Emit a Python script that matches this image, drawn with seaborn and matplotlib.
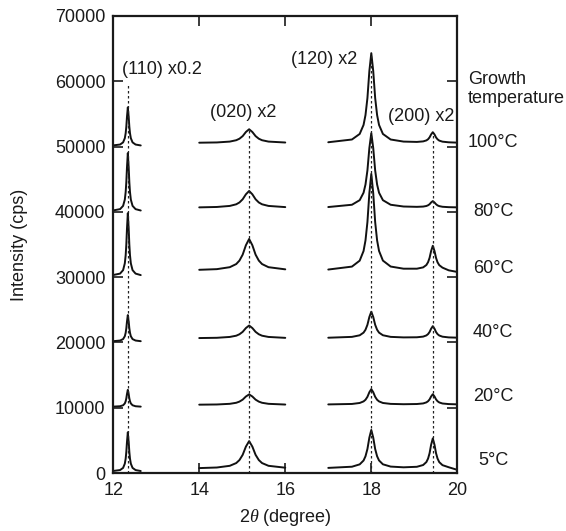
import pandas as pd
import seaborn as sns
import matplotlib.pyplot as plt

# growth temperatures, top trace first
temps = ['100°C', '80°C', '60°C', '40°C', '20°C', '5°C']

# (110) region, intensity x0.2
x_110 = [12.00, 12.16, 12.23, 12.27, 12.29, 12.305, 12.32, 12.34,
         12.36, 12.375, 12.39, 12.41, 12.45, 12.52, 12.64]
i_110 = [
    [50180, 50310, 50640, 51280, 52050, 53050, 54530, 56000, 54530, 53050, 52050, 51280, 50640, 50310, 50170],
    [40220, 40420, 40920, 41880, 43040, 44550, 46780, 49000, 46780, 44550, 43040, 41880, 40920, 40420, 40210],
    [30330, 30550, 31080, 32120, 33370, 35000, 37400, 39800, 37400, 35000, 33370, 32120, 31080, 30550, 30320],
    [20200, 20300, 20520, 20960, 21490, 22180, 23190, 24200, 23190, 22180, 21490, 20960, 20520, 20300, 20200],
    [10180, 10240, 10390, 10670, 11010, 11450, 12100, 12750, 12100, 11450, 11010, 10670, 10390, 10240, 10180],
    [330, 470, 800, 1450, 2230, 3250, 4750, 6250, 4750, 3250, 2230, 1450, 800, 470, 320],
]

# (020) region, intensity x2
x_020 = [14.00, 14.41, 14.71, 14.86, 14.935, 15.01, 15.085, 15.16,
         15.235, 15.31, 15.385, 15.46, 15.61, 16.00]
i_020 = [
    [50590, 50630, 50760, 50970, 51200, 51600, 52230, 52650, 52230, 51600, 51200, 50970, 50760, 50620],
    [40690, 40750, 40910, 41160, 41440, 41930, 42690, 43200, 42690, 41930, 41440, 41160, 40910, 40730],
    [31130, 31230, 31530, 32010, 32540, 33450, 34890, 35850, 34890, 33450, 32540, 32010, 31530, 31200],
    [20680, 20720, 20850, 21040, 21260, 21630, 22210, 22600, 22210, 21630, 21260, 21040, 20850, 20710],
    [10480, 10510, 10610, 10770, 10950, 11250, 11730, 12050, 11730, 11250, 10950, 10770, 10610, 10500],
    [770, 860, 1120, 1540, 2000, 2800, 4060, 4900, 4060, 2800, 2000, 1540, 1120, 830],
]

# (120) + (200) region, intensity x2
x_120 = [17.00, 17.55, 17.73, 17.82, 17.865, 17.91, 17.955, 18.00, 18.045, 18.09,
         18.135, 18.18, 18.27, 18.45, 18.75, 19.06, 19.205, 19.28, 19.32, 19.355,
         19.39, 19.43, 19.47, 19.505, 19.54, 19.58, 19.655, 19.80, 20.00]
i_120 = [
    [50660, 51080, 51930, 53310, 54820, 57430, 61560, 64300, 61560, 57430,
     54820, 53310, 51930, 51080, 50760, 50710, 50790, 50940, 51120, 51410,
     51850, 52200, 51850, 51400, 51110, 50910, 50750, 50650, 50600],
    [40740, 41090, 41790, 42930, 44190, 46350, 49770, 52050, 49770, 46350,
     44190, 42930, 41790, 41090, 40820, 40770, 40810, 40900, 41010, 41170,
     41440, 41650, 41430, 41170, 40990, 40880, 40780, 40720, 40690],
    [31170, 31620, 32530, 34010, 35630, 38440, 42860, 45810, 42860, 38440,
     35630, 34020, 32540, 31630, 31300, 31300, 31500, 31860, 32300, 32960,
     33990, 34810, 33990, 32950, 32280, 31840, 31460, 31050, 30800],
    [20730, 20860, 21100, 21510, 21950, 22710, 23910, 24710, 23910, 22710,
     21950, 21510, 21110, 20860, 20780, 20800, 20900, 21080, 21290, 21610,
     22100, 22500, 22100, 21600, 21280, 21070, 20890, 20780, 20740],
    [10520, 10590, 10740, 10980, 11230, 11680, 12390, 12860, 12390, 11680,
     11230, 10980, 10740, 10600, 10550, 10580, 10670, 10830, 11010, 11290,
     11730, 12080, 11730, 11290, 11010, 10820, 10660, 10570, 10530],
    [800, 980, 1340, 1930, 2580, 3690, 5440, 6610, 5440, 3690,
     2580, 1940, 1350, 1000, 890, 970, 1240, 1690, 2230, 3050,
     4320, 5320, 4320, 3050, 2230, 1680, 1220, 900, 500],
]

# reflections: dashed guide position and top
peak_pos = [12.34, 15.16, 18.00, 19.43]
peak_top = [59700, 52600, 64000, 52000]
peak_labels = ['(110) x0.2', '(020) x2', '(120) x2', '(200) x2']
label_x = [12.20, 15.03, 16.90, 19.15]
label_y = [61800, 55200, 63300, 54600]
label_ha = ['left', 'center', 'center', 'center']

temp_label_y = [50550, 40000, 31300, 21500, 11800, 1900]

rows = []
for seg, xs, block in [('110', x_110, i_110), ('020', x_020, i_020), ('120', x_120, i_120)]:
    for t, ys in zip(temps, block):
        for x, y in zip(xs, ys):
            rows.append({'two_theta': x, 'intensity': y, 'curve': seg + '_' + t})
df = pd.DataFrame(rows)

sns.set_style('ticks')
plt.rcParams['font.family'] = ['Liberation Sans', 'DejaVu Sans']
plt.rcParams['mathtext.fontset'] = 'custom'
plt.rcParams['mathtext.it'] = 'Liberation Serif:italic'
plt.rcParams['mathtext.rm'] = 'Liberation Sans'
plt.rcParams['text.color'] = '#1a1a1a'
plt.rcParams['axes.labelcolor'] = '#1a1a1a'
plt.rcParams['xtick.color'] = '#1a1a1a'
plt.rcParams['ytick.color'] = '#1a1a1a'

fig, ax = plt.subplots(figsize=(5.66, 5.31), dpi=100)
fig.subplots_adjust(left=0.2, right=0.808, bottom=0.109, top=0.97)

sns.lineplot(data=df, x='two_theta', y='intensity', units='curve', estimator=None,
             sort=False, color='#111111', lw=1.4, legend=False, ax=ax)

ax.vlines(peak_pos, 0, peak_top, colors='#222222', linestyles=(0, (2, 2)), lw=0.9)

for txt, x, y, ha in zip(peak_labels, label_x, label_y, label_ha):
    ax.text(x, y, txt, ha=ha, va='center', fontsize=13)

ax.text(20.25, 58800, 'Growth\ntemperature', ha='left', va='center',
        fontsize=13, linespacing=1.1, clip_on=False)
for t, y in zip(temps, temp_label_y):
    ax.text(20.83, y, t, ha='center', va='center', fontsize=13, clip_on=False)

ax.set_xlim(12, 20)
ax.set_ylim(0, 70000)
ax.set_xticks([12, 14, 16, 18, 20])
ax.set_yticks(range(0, 70001, 10000))
ax.tick_params(direction='in', length=7, width=1.2, top=True, right=True,
               labelsize=13)
ax.tick_params(axis='y', pad=5.5)
ax.tick_params(axis='x', pad=6.5)
for s in ax.spines.values():
    s.set_linewidth(1.6)
    s.set_color('#1a1a1a')

ax.set_xlabel(r'2$\theta$ (degree)', fontsize=13)
ax.set_ylabel('Intensity (cps)', fontsize=13)
ax.xaxis.set_label_coords(0.5, -0.074)
ax.yaxis.set_label_coords(-0.248, 0.5)

fig.savefig('out.png', dpi=100)
